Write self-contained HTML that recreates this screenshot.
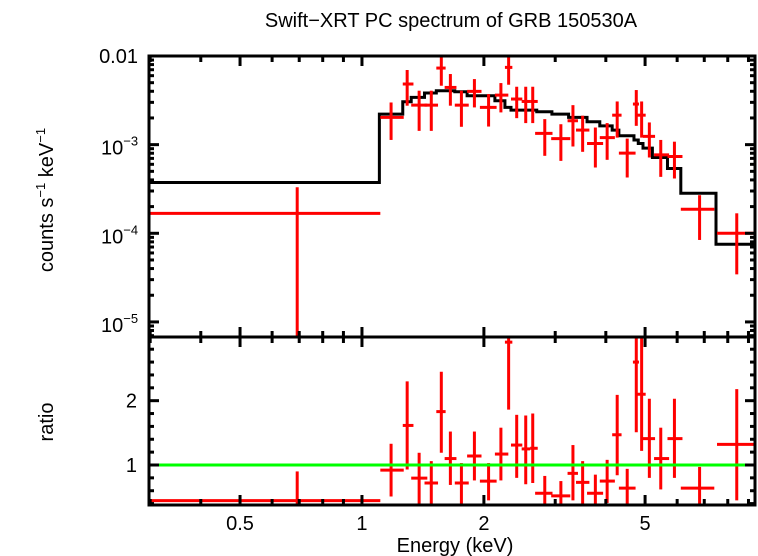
<!DOCTYPE html>
<html><head><meta charset="utf-8"><style>
html,body{margin:0;padding:0;background:#fff;}
svg{display:block;font-family:"Liberation Sans",sans-serif;}
</style></head><body>
<svg id="chart" width="758" height="556" viewBox="0 0 758 556" xmlns="http://www.w3.org/2000/svg">
<defs>
<clipPath id="ctop"><rect x="149" y="56" width="606" height="281"/></clipPath>
<clipPath id="cbot"><rect x="149" y="337" width="606" height="168"/></clipPath>
</defs>
<text x="451" y="27" font-size="20" text-anchor="middle">Swift−XRT PC spectrum of GRB 150530A</text>
<text transform="translate(53,200) rotate(-90)" font-size="20" text-anchor="middle">counts s<tspan font-size="13" dy="-8">−1</tspan><tspan dy="8"> keV</tspan><tspan font-size="13" dy="-8">−1</tspan></text>
<text transform="translate(53,422) rotate(-90)" font-size="20" text-anchor="middle">ratio</text>
<text x="455" y="552" font-size="20" text-anchor="middle">Energy (keV)</text>
<g id="gtop"></g>
<g id="gbot"></g>
<g id="axes"></g>
</svg>
<script>
const eLo=[0.298,1.110,1.261,1.323,1.427,1.526,1.600,1.695,1.818,1.955,2.129,2.254,2.333,2.479,2.601,2.676,2.932,3.218,3.376,3.595,3.865,4.147,4.308,4.666,4.783,4.941,5.262,5.679,6.126,7.526];
const eC=[0.692,1.180,1.293,1.384,1.483,1.570,1.653,1.760,1.895,2.054,2.203,2.302,2.410,2.537,2.640,2.827,3.098,3.318,3.506,3.769,4.030,4.267,4.517,4.756,4.903,5.123,5.466,5.908,6.816,8.420];
const eHi=[1.11,1.268,1.340,1.450,1.541,1.609,1.711,1.835,1.973,2.150,2.298,2.351,2.488,2.601,2.716,2.954,3.268,3.414,3.643,3.939,4.211,4.374,4.737,4.829,5.017,5.292,5.732,6.184,7.411,9.34];
const rate=[1.68e-4,2.03e-3,4.83e-3,2.79e-3,2.79e-3,7.31e-3,4.42e-3,2.79e-3,3.99e-3,2.63e-3,3.62e-3,7.44e-3,3.27e-3,3.07e-3,3.07e-3,1.34e-3,1.17e-3,1.86e-3,1.46e-3,1.03e-3,1.20e-3,2.15e-3,8.02e-4,2.87e-3,2.15e-3,1.24e-3,7.67e-4,7.35e-4,1.87e-4,1.00e-4];
const rateHi=[3.31e-4,2.99e-3,6.95e-3,4.06e-3,4.06e-3,9.91e-3,6.26e-3,4.06e-3,5.49e-3,3.72e-3,4.95e-3,1.053e-2,4.50e-3,4.50e-3,4.50e-3,1.94e-3,1.70e-3,2.79e-3,2.12e-3,1.56e-3,1.75e-3,3.07e-3,1.17e-3,4.13e-3,3.07e-3,1.78e-3,1.13e-3,1.08e-3,2.69e-4,1.68e-4];
const rateLo=[1e-6,1.13e-3,2.75e-3,1.43e-3,1.43e-3,4.62e-3,2.75e-3,1.59e-3,2.63e-3,1.60e-3,2.31e-3,4.74e-3,1.99e-3,1.75e-3,1.75e-3,7.48e-4,6.56e-4,9.53e-4,8.30e-4,5.52e-4,6.74e-4,1.20e-3,4.26e-4,1.63e-3,1.20e-3,7.16e-4,4.33e-4,4.15e-4,8.41e-5,3.44e-5];
const ratio=[0.446,0.92,1.615,0.795,0.72,1.83,1.10,0.72,1.14,0.75,1.17,2.91,1.31,1.25,1.26,0.56,0.52,0.87,0.73,0.56,0.75,1.47,0.64,2.60,2.10,1.41,1.10,1.41,0.64,1.32];
const ratioHi=[0.9,1.33,2.30,1.19,1.06,2.45,1.52,1.03,1.52,1.03,1.58,3.2,1.78,1.77,1.80,0.83,0.75,1.31,1.06,0.85,1.08,2.09,0.94,3.2,3.2,2.03,1.58,2.03,0.97,2.18];
const ratioLo=[0.3,0.51,0.93,0.3,0.3,1.19,0.69,0.3,0.76,0.45,0.76,1.86,0.80,0.70,0.72,0.3,0.3,0.45,0.3,0.3,0.41,0.84,0.3,1.51,1.22,0.80,0.62,0.80,0.3,0.45];
const modelEdges=[0.298,1.104,1.261,1.323,1.427,1.526,1.695,1.818,2.129,2.254,2.333,2.701,2.944,3.237,3.595,3.865,4.147,4.308,4.694,4.810,4.941,5.212,5.679,6.126,7.483,9.34];
const modelVals=[3.74e-4,2.21e-3,3.05e-3,3.41e-3,3.82e-3,4.06e-3,3.95e-3,3.56e-3,3.13e-3,2.63e-3,2.45e-3,2.35e-3,2.21e-3,2.03e-3,1.81e-3,1.63e-3,1.46e-3,1.26e-3,1.13e-3,1.03e-3,9.13e-4,7.16e-4,5.38e-4,2.83e-4,7.51e-5];
const xTicksMajor=[0.5,1,2,5];
const xTickLabels=["0.5","1","2","5"];
const xTicksMinor=[0.3,0.4,0.6,0.7,0.8,0.9,3,4,6,7,8,9];

const NS="http://www.w3.org/2000/svg";
const X0=149,X1=755,T0=56,T1=337,B0=337,B1=505;
const xMin=0.298,xMax=9.34;
function xs(e){return X0+(Math.log10(e)-Math.log10(xMin))/(Math.log10(xMax)-Math.log10(xMin))*(X1-X0);}
const yMaxL=-2,yMinL=-5.17;
function ys(r){return T0+(yMaxL-Math.log10(r))/(yMaxL-yMinL)*(T1-T0);}
const rMin=0.378,rMax=2.99;
function yr(v){return B1-(v-rMin)/(rMax-rMin)*(B1-B0);}
function mk(tag,attrs,parent){const el=document.createElementNS(NS,tag);for(const k in attrs)el.setAttribute(k,attrs[k]);parent.appendChild(el);return el;}
function line(p,x1,y1,x2,y2,c,w){return mk('line',{x1:x1,y1:y1,x2:x2,y2:y2,stroke:c,'stroke-width':w},p);}

const gt=document.getElementById('gtop');gt.setAttribute('clip-path','url(#ctop)');
const gb=document.getElementById('gbot');gb.setAttribute('clip-path','url(#cbot)');
let d='';
for(let i=0;i<modelVals.length;i++){const xa=xs(modelEdges[i]),xb=xs(modelEdges[i+1]),y=ys(modelVals[i]);d+=(i?'L':'M')+xa+' '+y+'L'+xb+' '+y;}
const mp=mk('path',{d:d,fill:'none',stroke:'#000','stroke-width':3},gt);


for(let i=0;i<eC.length;i++){
  const g=mk('g',{},gt);
  
  
  line(g,xs(eLo[i]),ys(rate[i]),xs(eHi[i]),ys(rate[i]),'#f00',3);
  line(g,xs(eC[i]),ys(rateHi[i]),xs(eC[i]),ys(rateLo[i]),'#f00',3);
  const h=mk('g',{},gb);
  
  
  line(h,xs(eLo[i]),yr(ratio[i]),xs(eHi[i]),yr(ratio[i]),'#f00',3);
  line(h,xs(eC[i]),yr(ratioHi[i]),xs(eC[i]),yr(ratioLo[i]),'#f00',3);
}
const gl=line(gb,X0,yr(1),X1,yr(1),'#0f0',3);



const ax=document.getElementById('axes');
const fr1=mk('rect',{x:X0,y:T0,width:X1-X0,height:T1-T0,fill:'none',stroke:'#000','stroke-width':3},ax);


const fr2=mk('rect',{x:X0,y:B0,width:X1-X0,height:B1-B0,fill:'none',stroke:'#000','stroke-width':3},ax);


function xt(e,len){const x=xs(e);
  line(ax,x,T0,x,T0+len,'#000',3);line(ax,x,T1,x,T1-len,'#000',3);
  line(ax,x,B0,x,B0+len,'#000',3);line(ax,x,B1,x,B1-len,'#000',3);}
xTicksMajor.forEach(e=>xt(e,10));
xTicksMinor.forEach(e=>xt(e,6));
xTicksMajor.forEach((e,i)=>{const t=mk('text',{x:xs(e),y:530,'font-size':20,'text-anchor':'middle'},ax);t.textContent=xTickLabels[i];
  
  });
function yt(y,len){line(ax,X0,y,X0+len,y,'#000',3);line(ax,X1,y,X1-len,y,'#000',3);}
for(let dec=-6;dec<=-2;dec++){for(let m=1;m<10;m++){const v=m*Math.pow(10,dec);const y=ys(v);if(y<T0-0.5||y>T1)continue;yt(y,m===1?10:5);}}
for(let v=0.4;v<=3.0;v+=0.2){const vv=Math.round(v*10)/10;const y=yr(vv);if(y<B0)continue;yt(y,(vv===1||vv===2)?10:5);}
const ylabs=[[-2,'0.01'],[-3,'10','−3'],[-4,'10','−4'],[-5,'10','−5']];
ylabs.forEach(l=>{const t=mk('text',{x:l[2]?101:138,y:ys(Math.pow(10,l[0]))+(l[2]?10:7),'font-size':20,'text-anchor':'start'},ax);
  if(!l[2])t.setAttribute('text-anchor','end');
  
  
  t.textContent=l[1];
  if(l[2]){const s=mk('tspan',{'font-size':13,dy:-9},t);s.textContent=l[2];}});
[[1,'1'],[2,'2']].forEach(l=>{const t=mk('text',{x:137,y:yr(l[0])+7,'font-size':20,'text-anchor':'end'},ax);t.textContent=l[1];
  
  });
</script>
</body></html>
